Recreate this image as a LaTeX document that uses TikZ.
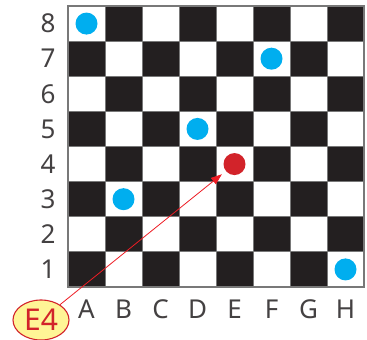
\documentclass[tikz,border=0pt]{standalone}
\usepackage{fontspec}
\setmainfont{Noto Sans}
\usetikzlibrary{%
	arrows.meta,%
	positioning,%
	shapes.geometric,%
}
\definecolor{cblack}{RGB}{35, 31, 32}
\definecolor{cgrid}{RGB}{120, 120, 120}
\definecolor{cblue}{RGB}{0, 174, 239}
\definecolor{cred}{RGB}{210, 35, 42}
\definecolor{carrow}{RGB}{237, 28, 36}
\definecolor{cyellowlight}{RGB}{255, 245, 150}
\tikzset{
	>=Triangle,%
	darksquare/.style={%
			fill=cblack},%
	gridline/.style={%
			draw=cgrid,%
			line width=0.8pt},%
	piece/.style={%
			circle,%
			minimum size=22pt,%
			inner sep=0},%
	bluepiece/.style={%
			piece,%
			fill=cblue},%
	redpiece/.style={%
			piece,%
			fill=cred},%
	boardlabel/.style={%
			text=cblack!85,%
			font={\fontsize{26}{26}\selectfont}},%
	marker/.style={%
			ellipse,%
			draw=cred,%
			line width=1.1pt,%
			fill=cyellowlight,%
			text=cred,%
			inner sep=0,%
			minimum width=56pt,%
			minimum height=40pt,%
			font={\fontsize{30}{30}\selectfont}},%
}
\begin{document}
\begin{tikzpicture}[x=1pt, y=-1pt]
	\useasboundingbox (0,0) rectangle (367,340);

	% squares
	\foreach \c in {1,...,8} {
		\foreach \r in {1,...,8} {
			\pgfmathtruncatemacro{\s}{\c+\r}
			\ifodd\s\else
				\fill[darksquare] ({68+(\c-1)*37},{6+(8-\r)*35.125}) rectangle ++(37,35.125);
			\fi
		}
	}
	\foreach \i in {1,...,7} {
		\draw[gridline] ({68+\i*37},6) -- ++(0,281);
		\draw[gridline] (68,{6+\i*35.125}) -- ++(296,0);
	}
	\draw[gridline, line width=1.2pt] (68,6) rectangle (364,287);

	% labels
	\foreach \r in {1,...,8}
		\node[boardlabel] (row\r) at (48,{6+(8.5-\r)*35.125}) {\r};
	\foreach \c/\l in {1/A,2/B,3/C,4/D,5/E,6/F,7/G,8/H}
		\node[boardlabel] (col\l) at ({68+(\c-0.5)*37},309) {\l};

	% pieces
	\foreach \name/\c/\r in {a8/1/8, f7/6/7, d5/4/5, b3/2/3, h1/8/1}
		\node[bluepiece] (\name) at ({68+(\c-0.5)*37},{6+(8.5-\r)*35.125}) {};
	\node[redpiece] (e4) at ({68+4.5*37},{6+4.5*35.125}) {};

	\node[marker] (target) at (41,320) {E4};

	\draw[->, carrow, line width=0.8pt, shorten >=5pt, >={Triangle[length=11pt,width=8pt]}] (target) -- (e4);
\end{tikzpicture}
\end{document}
